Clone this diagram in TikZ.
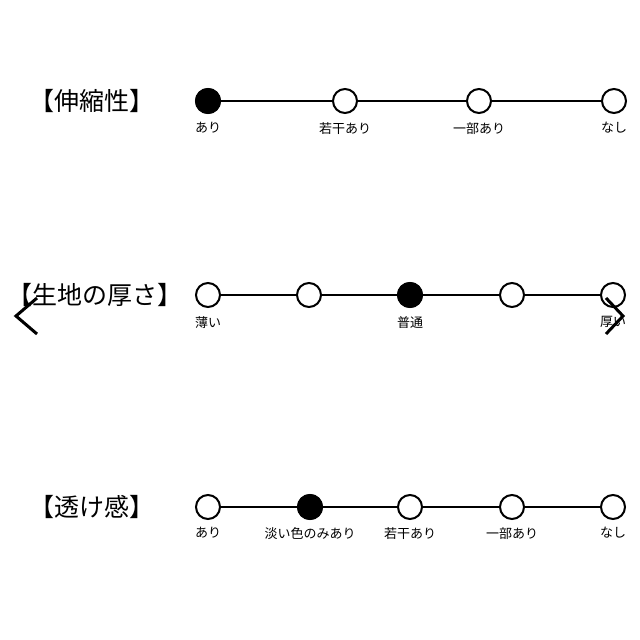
\documentclass[tikz,border=0pt]{standalone}
\usepackage{fontspec}
\setmainfont{Noto Sans CJK JP}
\usetikzlibrary{positioning}
\tikzset{
  scalept/.style={circle,draw,line width=2pt,minimum size=24pt,inner sep=0pt,fill=white},
  picked/.style={scalept,fill=black},
  scaleline/.style={line width=2pt},
  title/.style={font=\fontsize{25}{25}\selectfont,inner sep=0pt},
  lab/.style={font=\fontsize{13}{13}\selectfont,inner sep=0pt},
  chevron/.style={line width=3pt}
}
\begin{document}
\begin{tikzpicture}[x=1pt,y=-1pt]
  \useasboundingbox (0,0) rectangle (640,640);
  % 伸縮性
  \node[title] (t1) at (92,101) {【伸縮性】};
  \foreach \i/\x/\t in {1/208/あり,2/345/若干あり,3/479/一部あり,4/614/なし} {
    \node[scalept] (a\i) at (\x,101) {};
    \node[lab,below=8pt of a\i] (la\i) {\t};
  }
  \node[picked] at (a1) {};
  \foreach \i/\j in {1/2,2/3,3/4}
    \draw[scaleline] (a\i) -- (a\j);

  % 生地の厚さ
  \node[title] (t2) at (95,295) {【生地の厚さ】};
  \foreach \i/\x in {1/208,2/309,3/410,4/512,5/613}
    \node[scalept] (b\i) at (\x,295) {};
  \node[picked] at (b3) {};
  \foreach \i/\j in {1/2,2/3,3/4,4/5}
    \draw[scaleline] (b\i) -- (b\j);
  \node[lab,below=8pt of b1] (lb1) {薄い};
  \node[lab,below=8pt of b3] (lb3) {普通};
  \node[lab,below=8pt of b5] (lb5) {厚い};

  % 透け感
  \node[title] (t3) at (92,507) {【透け感】};
  \foreach \i/\x/\t in {1/208/あり,2/310/淡い色のみあり,3/410/若干あり,4/512/一部あり,5/613/なし} {
    \node[scalept] (c\i) at (\x,507) {};
    \node[lab,below=7pt of c\i] (lc\i) {\t};
  }
  \node[picked] at (c2) {};
  \foreach \i/\j in {1/2,2/3,3/4,4/5}
    \draw[scaleline] (c\i) -- (c\j);

  % chevrons
  \draw[chevron] (37,298) -- (16,316) -- (37,334);
  \draw[chevron] (606,298) -- (623,316) -- (606,334);
\end{tikzpicture}
\end{document}
